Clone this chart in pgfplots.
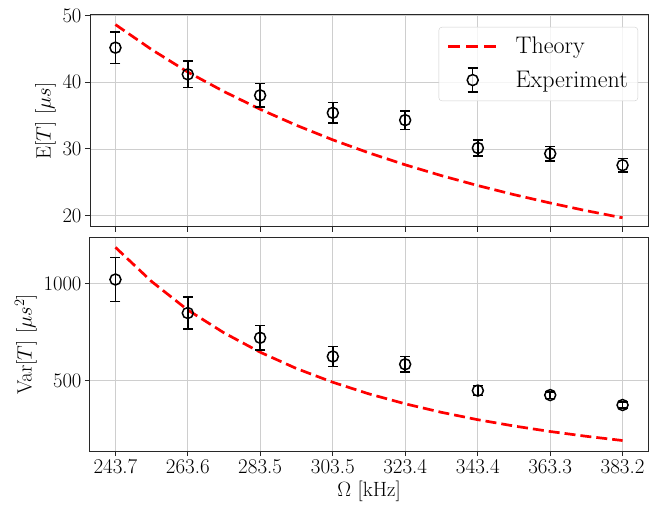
\documentclass[border=0pt]{standalone}
\usepackage{pgfplots}
\pgfplotsset{compat=1.18}
\definecolor{gridgray}{RGB}{206,206,206}
\definecolor{spine}{RGB}{40,40,40}

\pgfplotstableread{
x      y      err
243.7  45.20  2.35
263.6  41.20  2.00
283.5  38.05  1.75
303.5  35.42  1.55
323.4  34.33  1.40
343.4  30.15  1.20
363.3  29.30  1.10
383.2  27.57  1.00
}\meanexp

\pgfplotstableread{
x      y       err
243.7  1020.0  113.0
263.6  848.0   83.0
283.5  721.0   63.0
303.5  625.0   51.0
323.4  585.0   40.0
343.4  450.0   25.0
363.3  427.0   17.0
383.2  376.0   15.0
}\varexp

\pgfplotsset{
  panel/.style={
    width=558bp, scale only axis,
    xmin=236.7, xmax=390.2,
    xtick={243.7,263.6,283.5,303.5,323.4,343.4,363.3,383.2},
    grid=major, grid style={gridgray, line width=0.8bp},
    axis line style={spine, line width=1bp},
    tick style={spine, line width=1bp},
    tick align=outside, major tick length=5bp,
    xtick pos=lower, ytick pos=left,
    /pgf/number format/1000 sep={},
    ticklabel style={font=\fontsize{21bp}{25bp}\selectfont},
    label style={font=\fontsize{22bp}{26bp}\selectfont},
  },
  theory/.style={red, dash pattern=on 11bp off 5bp, line width=2.7bp, no marks},
  expt/.style={black, only marks, mark=o, mark size=5.5bp,
    mark options={line width=1.5bp},
    error bars/y dir=both, error bars/y explicit,
    error bars/error bar style={line width=1.5bp},
    error bars/error mark options={rotate=90, mark size=5bp, line width=1.5bp}},
}

\begin{document}
\begin{tikzpicture}
\useasboundingbox (-90bp,-55bp) rectangle (559bp,451bp);

% upper panel: mean
\begin{axis}[panel,
  at={(0,224bp)}, height=212bp,
  ymin=18.3, ymax=50.1,
  ytick={20,30,40,50},
  xticklabels={},
  ylabel={$\mathrm{E}[T]\ [\mu s]$},
  legend style={at={(1,1)}, anchor=north east, xshift=-10bp, yshift=-12bp,
    draw=gridgray, rounded corners=3bp, fill=white, fill opacity=0.8,
    text opacity=1, font=\fontsize{24bp}{28bp}\selectfont,
    row sep=10bp, inner xsep=8bp, inner ysep=8bp,
    /tikz/every odd column/.append style={column sep=15bp}},
  legend cell align=left,
]
\addplot[theory,
  legend image code/.code={\draw[red, dash pattern=on 12bp off 6bp, line width=2.7bp] (0bp,0bp) -- (49bp,0bp);}]
  coordinates {
  (243.7,48.66) (253.65,44.92) (263.6,41.54) (273.55,38.62) (283.5,35.96)
  (293.5,33.55) (303.5,31.37) (313.45,29.41) (323.4,27.63) (333.4,26.00)
  (343.4,24.51) (353.35,23.15) (363.3,21.90) (373.25,20.74) (383.2,19.68)
  };
\addlegendentry{Theory}
\addplot[expt,
  legend image code/.code={
    \draw[black, line width=1.5bp] (24.5bp,-12bp) -- (24.5bp,12bp)
      (19.5bp,-12bp) -- (29.5bp,-12bp) (19.5bp,12bp) -- (29.5bp,12bp);
    \draw[black, line width=1.5bp, fill=white] (24.5bp,0bp) circle (5.5bp);}]
  table[x=x, y=y, y error=err] {\meanexp};
\addlegendentry{Experiment}
\end{axis}

% lower panel: variance
\begin{axis}[panel,
  at={(0,0)}, height=213bp,
  ymin=140, ymax=1233,
  ytick={500,1000},
  xticklabels={243.7,263.6,283.5,303.5,323.4,343.4,363.3,383.2},
  ylabel={$\mathrm{Var}[T]\ [\mu s^2]$},
  xlabel={$\Omega\ [\mathrm{kHz}]$},
]
\addplot[theory] coordinates {
  (243.7,1185.0) (253.65,1009.8) (263.6,863.4) (273.55,746.5) (283.5,647.1)
  (293.5,563.2) (303.5,492.7) (313.45,433.0) (323.4,382.2) (333.4,338.3)
  (343.4,300.5) (353.35,268.2) (363.3,240.0) (373.25,215.4) (383.2,193.8)
  };
\addplot[expt] table[x=x, y=y, y error=err] {\varexp};
\end{axis}
\end{tikzpicture}
\end{document}
